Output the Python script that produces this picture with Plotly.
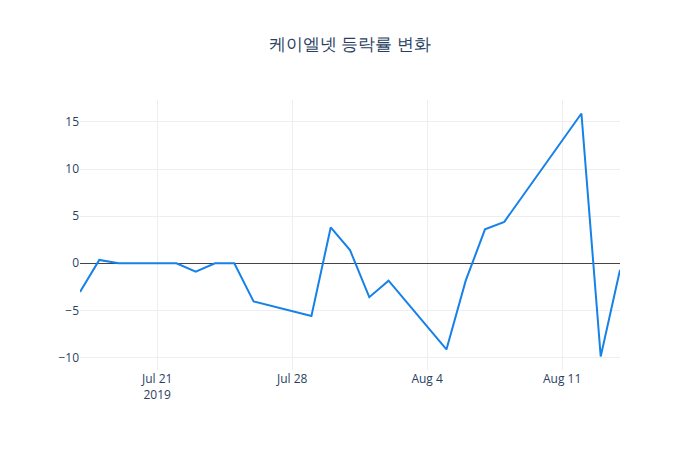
import plotly.graph_objects as go

dates = ["2019-07-17", "2019-07-18", "2019-07-19", "2019-07-22", "2019-07-23",
         "2019-07-24", "2019-07-25", "2019-07-26", "2019-07-29", "2019-07-30",
         "2019-07-31", "2019-08-01", "2019-08-02", "2019-08-05", "2019-08-06",
         "2019-08-07", "2019-08-08", "2019-08-12", "2019-08-13", "2019-08-14"]
changes = [-3.05, 0.35, 0.0, 0.0, -0.9,
           0.0, 0.0, -4.05, -5.6, 3.8,
           1.4, -3.6, -1.85, -9.15, -1.85,
           3.6, 4.4, 15.9, -9.9, -0.7]

fig = go.Figure(go.Scatter(x=dates, y=changes, mode="lines",
                           line=dict(color="#1681e8", width=2)))
fig.update_layout(
    width=700, height=450,
    title=dict(text="케이엘넷 등락률 변화", x=0.5, xanchor="center"),
    plot_bgcolor="white", paper_bgcolor="white",
    margin=dict(l=80, r=80, t=100, b=80),
    xaxis=dict(showgrid=True, gridcolor="#eeeeee", zeroline=False),
    yaxis=dict(showgrid=True, gridcolor="#eeeeee", zeroline=True,
               zerolinecolor="#444444", zerolinewidth=1),
)
fig.write_html("out.html")
